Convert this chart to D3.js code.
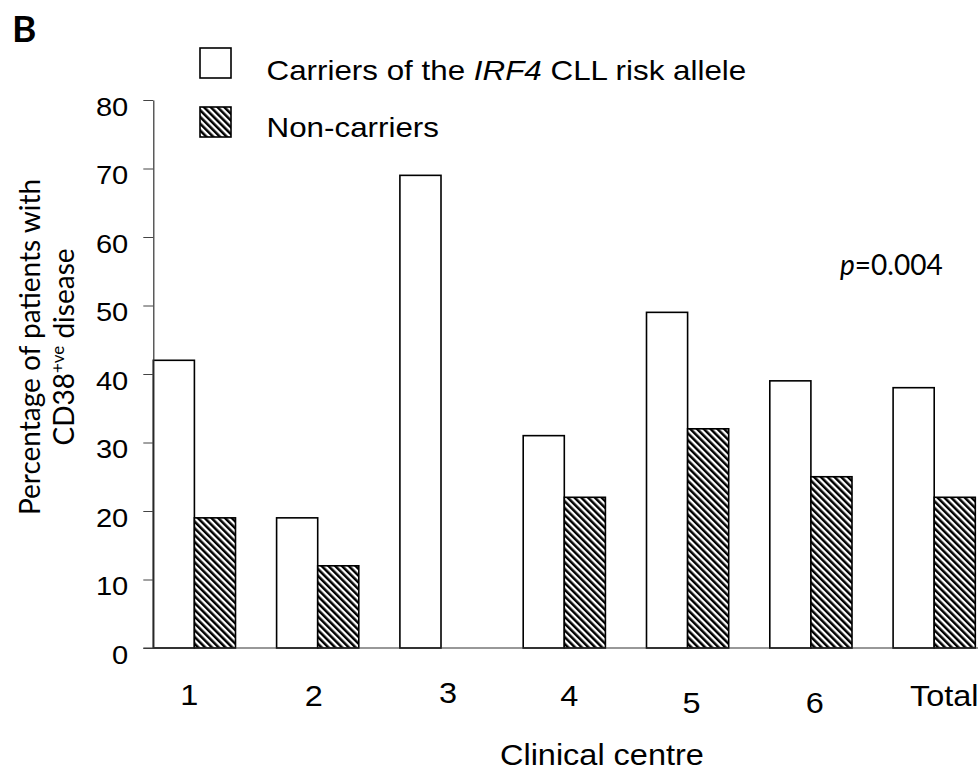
<!DOCTYPE html>
<html>
<head>
<meta charset="utf-8">
<script src="https://cdn.jsdelivr.net/npm/d3@7"></script>
<style>
  html, body { margin: 0; padding: 0; background: #fff; }
  svg { display: block; }
</style>
</head>
<body>
<svg id="chart" width="978" height="771"></svg>
<script>
// CD38-positive disease by clinical centre, split by IRF4 risk-allele carrier status
const centres = ["1", "2", "3", "4", "5", "6", "Total"];
const carriers = [42, 19, 69, 31, 49, 39, 38];
const nonCarriers = [19, 12, 0, 22, 32, 25, 22];
const yTicks = [0, 10, 20, 30, 40, 50, 60, 70, 80];
const seriesNames = ["carriers", "nonCarriers"];

// small hand nudges for the category labels (dx, dy from the default spot)
const labelNudge = [[-5, -2], [-4, -1], [7, -4], [5, -1], [4, 6], [4, 6], [10, -1]];

const svg = d3.select("#chart");
const arial = "'Liberation Sans', Arial, sans-serif";
const calibri = "Lato, 'Open Sans', sans-serif";
const SX = 1.12; // horizontal stretch of the sans labels

const plot = { left: 153.3, right: 975.3, top: 100, bottom: 648 };

const x = d3.scaleBand()
  .domain(centres)
  .range([plot.left, plot.right])
  .paddingInner(1 / 3)
  .paddingOuter(0);

const xSub = d3.scaleBand()
  .domain(seriesNames)
  .range([0, x.bandwidth()])
  .padding(0);

const y = d3.scaleLinear().domain([0, 80]).range([plot.bottom, plot.top]);

// diagonal hatch fill
const defs = svg.append("defs");
const pat = defs.append("pattern")
  .attr("id", "hatch")
  .attr("patternUnits", "userSpaceOnUse")
  .attr("width", 4.8)
  .attr("height", 4.8)
  .attr("patternTransform", "rotate(-45)");
pat.append("rect").attr("width", 4.8).attr("height", 4.8).attr("fill", "#fff");
pat.append("rect").attr("width", 2.5).attr("height", 4.8).attr("fill", "#000");

const fills = { carriers: "#fff", nonCarriers: "url(#hatch)" };

// bars
const rows = centres.map((c, i) => ({ centre: c, carriers: carriers[i], nonCarriers: nonCarriers[i] }));
const groups = svg.append("g").selectAll("g")
  .data(rows)
  .join("g")
  .attr("transform", d => `translate(${x(d.centre)},0)`);

groups.selectAll("rect")
  .data(d => seriesNames.map(k => ({ key: k, value: d[k] })).filter(e => e.value > 0))
  .join("rect")
  .attr("x", e => xSub(e.key))
  .attr("y", e => y(e.value))
  .attr("width", xSub.bandwidth())
  .attr("height", e => y(0) - y(e.value))
  .attr("fill", e => fills[e.key])
  .attr("stroke", "#000")
  .attr("stroke-width", 1.6);

// y axis
const yAxis = svg.append("g")
  .attr("transform", `translate(${plot.left},0)`)
  .call(d3.axisLeft(y).tickValues(yTicks).tickSize(10).tickSizeOuter(0).tickFormat(d3.format("d")));
yAxis.select(".domain").attr("stroke", "#333").attr("stroke-width", 1.2);
yAxis.selectAll(".tick line").attr("stroke", "#444").attr("stroke-width", 1);
yAxis.selectAll(".tick text")
  .attr("x", 0).attr("dy", null)
  .attr("transform", `translate(-25,15) scale(${SX},1)`)
  .attr("text-anchor", "end")
  .style("font-family", arial)
  .style("font-size", "26px")
  .attr("fill", "#000");

// baseline
svg.append("line")
  .attr("x1", plot.left - 10).attr("x2", 978)
  .attr("y1", y(0)).attr("y2", y(0))
  .attr("stroke", "#333").attr("stroke-width", 1.2);

// category labels
svg.append("g").selectAll("text")
  .data(centres)
  .join("text")
  .attr("transform", (d, i) => `translate(${x(d) + x.bandwidth() / 2 + labelNudge[i][0]},${707 + labelNudge[i][1]}) scale(${SX},1)`)
  .attr("text-anchor", "middle")
  .style("font-family", arial)
  .style("font-size", "29px")
  .text(d => d);

// x title
svg.append("text")
  .attr("transform", `translate(500,765) scale(${SX},1)`)
  .style("font-family", arial)
  .style("font-size", "29px")
  .text("Clinical centre");

// y title (two lines)
const yTitle = svg.append("g").attr("transform", "translate(0,347) rotate(-90)");
yTitle.append("text")
  .attr("x", 0).attr("y", 40)
  .attr("text-anchor", "middle")
  .style("font-family", calibri)
  .style("font-size", "28px")
  .text("Percentage of patients with");
const l2 = yTitle.append("text")
  .attr("x", 0).attr("y", 74)
  .attr("text-anchor", "middle")
  .style("font-family", calibri)
  .style("font-size", "28px");
l2.append("tspan").text("CD38");
l2.append("tspan").attr("dy", -10).style("font-size", "17px").text("+ve");
l2.append("tspan").attr("dy", 10).text(" disease");

// panel letter
svg.append("text")
  .attr("x", 12).attr("y", 42)
  .style("font-family", calibri)
  .style("font-weight", "bold")
  .style("font-size", "37px")
  .text("B");

// p value
const pv = svg.append("text")
  .attr("x", 840).attr("y", 275)
  .style("font-family", calibri)
  .style("font-size", "28px");
pv.append("tspan").style("font-style", "italic").text("p");
pv.append("tspan").text("=0.004");

// legend
const legend = svg.append("g");
const legendItems = [
  { key: "carriers", y: 48 },
  { key: "nonCarriers", y: 107 }
];
legend.selectAll("rect")
  .data(legendItems)
  .join("rect")
  .attr("x", 200).attr("y", d => d.y)
  .attr("width", 31).attr("height", 30)
  .attr("fill", d => fills[d.key])
  .attr("stroke", "#000")
  .attr("stroke-width", 1.6);

const lt1 = legend.append("text")
  .attr("transform", `translate(266.5,80) scale(${SX},1)`)
  .style("font-family", arial)
  .style("font-size", "28px");
lt1.append("tspan").text("Carriers of the ");
lt1.append("tspan").style("font-style", "italic").text("IRF4");
lt1.append("tspan").text(" CLL risk allele");

legend.append("text")
  .attr("transform", `translate(266.5,137) scale(${SX},1)`)
  .style("font-family", arial)
  .style("font-size", "28px")
  .text("Non-carriers");
</script>
</body>
</html>
